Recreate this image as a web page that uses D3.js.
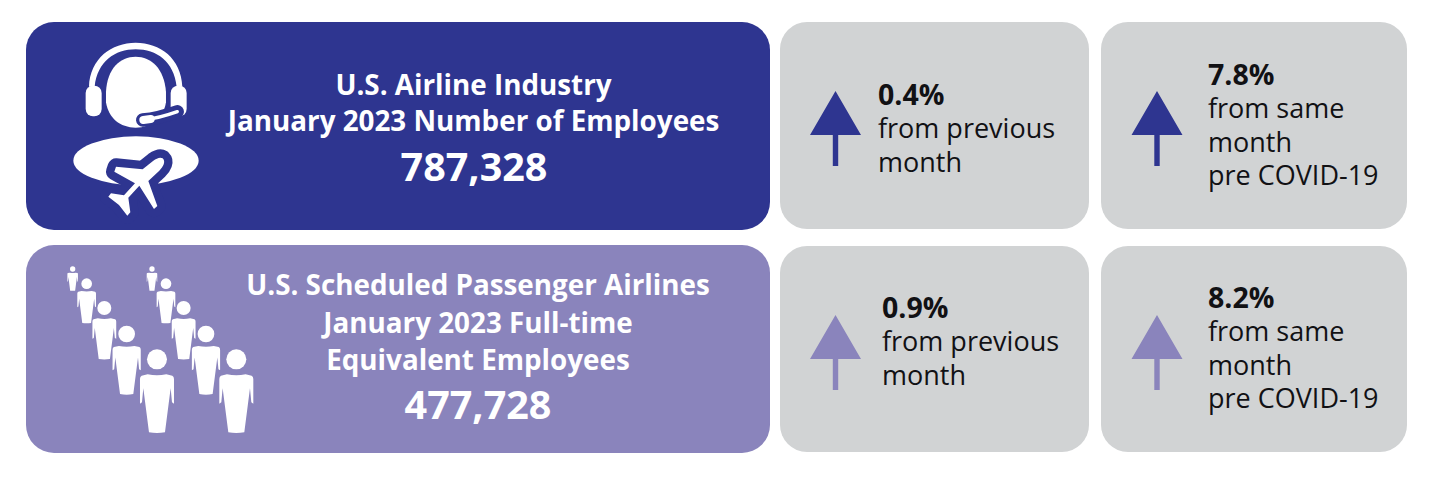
<!DOCTYPE html>
<html>
<head>
<meta charset="utf-8">
<script src="https://cdn.jsdelivr.net/npm/d3@7"></script>
<style>
  html, body { margin: 0; padding: 0; background: #fff; }
  svg { display: block; }
  text { font-family: "Open Sans", sans-serif; }
</style>
</head>
<body>
<div id="chart"></div>
<script>
// values
const panelTitles = [
  ["U.S. Airline Industry", "January 2023 Number of Employees"],
  ["U.S. Scheduled Passenger Airlines", "January 2023 Full-time", "Equivalent Employees"]
];
const panelTotals = ["787,328", "477,728"];
const monthChange = ["0.4%", "0.9%"];
const covidChange = ["7.8%", "8.2%"];
const monthLabel = ["from previous", "month"];
const covidLabel = ["from same", "month", "pre COVID-19"];

const NAVY = "#2e3590", LILAC = "#8a84bc", GREY = "#d1d3d4", INK = "#111114";

const svg = d3.select("#chart").append("svg").attr("width", 1430).attr("height", 478);

function box(x, y, w, h, r, fill) {
  svg.append("rect").attr("x", x).attr("y", y).attr("width", w).attr("height", h)
    .attr("rx", r).attr("fill", fill);
}

function line(x, y, str, size, weight, fill, anchor) {
  svg.append("text").attr("x", x).attr("y", y).attr("font-size", size)
    .attr("font-weight", weight).attr("fill", fill)
    .attr("text-anchor", anchor || "start").text(str);
}

function arrow(cx, top, color) {
  svg.append("path")
    .attr("d", d3.line()([[cx, top], [cx + 25.5, top + 44], [cx + 2.7, top + 44], [cx + 2.7, top + 75],
      [cx - 2.7, top + 75], [cx - 2.7, top + 44], [cx - 25.5, top + 44]]) + "Z")
    .attr("fill", color);
}

// one grey card: arrow, bold change, then the label lines
function card(x, y, w, h, arrowX, arrowTop, color, textX, firstBase, change, label, steps) {
  box(x, y, w, h, 27, GREY);
  arrow(arrowX, arrowTop, color);
  line(textX, firstBase, change, 28.5, 700, INK);
  label.forEach((t, i) => line(textX, firstBase + steps[i], t, 27, 400, INK));
}

box(26, 22, 744, 208, 28, NAVY);
box(26, 245, 744, 208, 28, LILAC);

// panel headings
panelTitles[0].forEach((t, i) => line(473.5, 95 + i * 36, t, 27.8, 700, "#fff", "middle"));
line(474, 181, panelTotals[0], 39.5, 700, "#fff", "middle");
panelTitles[1].forEach((t, i) => line(478, 295 + i * 37.5, t, 27.8, 700, "#fff", "middle"));
line(478, 419, panelTotals[1], 39.5, 700, "#fff", "middle");

// cards
card(780, 22, 309, 207, 835.5, 91, NAVY, 878, 105, monthChange[0], monthLabel, [33, 67]);
card(1101, 22, 306, 207, 1157, 91, NAVY, 1208, 85, covidChange[0], covidLabel, [33, 67, 100]);
card(780, 246, 309, 206, 835.5, 315, LILAC, 882, 318, monthChange[1], monthLabel, [33, 67]);
card(1101, 246, 306, 206, 1157, 315, LILAC, 1208, 308, covidChange[1], covidLabel, [33, 67, 100]);

// headset + plane icon, drawn in the 3x zoom coordinates
const agent = svg.append("g").attr("transform", "translate(20,15) scale(0.3333)");
agent.append("path")
  .attr("d", "M207 215 C210 130 275 83 347 83 C420 83 484 130 487 215 L470 215 C462 140 410 103 347 103 C285 103 232 140 224 215 Z")
  .attr("fill", "#fff");
agent.append("rect").attr("x", 197).attr("y", 212).attr("width", 48).attr("height", 92).attr("rx", 22).attr("fill", "#fff");
agent.append("rect").attr("x", 452).attr("y", 212).attr("width", 48).attr("height", 92).attr("rx", 22).attr("fill", "#fff");
agent.append("path")
  .attr("d", "M258 230 C262 160 300 125 347 125 C394 125 432 160 438 230 L438 262 C430 310 395 338 347 338 C300 338 266 310 258 262 Z")
  .attr("fill", "#fff");
// mic boom with its dark halo
const boom = "M368 315 C400 312 430 305 472 290";
agent.append("path").attr("d", boom).attr("fill", "none").attr("stroke", NAVY)
  .attr("stroke-width", 40).attr("stroke-linecap", "round");
agent.append("path").attr("d", boom).attr("fill", "none").attr("stroke", "#fff")
  .attr("stroke-width", 10).attr("stroke-linecap", "round");
agent.append("path").attr("d", "M370 315 L392 312").attr("fill", "none").attr("stroke", "#fff")
  .attr("stroke-width", 24).attr("stroke-linecap", "round");
agent.append("ellipse").attr("cx", 348).attr("cy", 437).attr("rx", 188).attr("ry", 73).attr("fill", "#fff");
const planePath = "M428 430 C438 440 430 455 418 467 L385 498 L412 573 L402 582 L358 512 L325 548 L331 592 L322 602 L297 570 L265 545 L273 535 L312 541 L345 505 L283 470 L288 455 L368 463 L400 437 C410 430 420 425 428 430 Z";
agent.append("path").attr("d", planePath).attr("fill", NAVY).attr("stroke", NAVY)
  .attr("stroke-width", 50).attr("stroke-linejoin", "round");
agent.append("path").attr("d", planePath).attr("fill", "#fff");

// two queues of people, shrinking toward the back
const crowd = svg.append("g").attr("transform", "translate(20,240) scale(0.3333)");
const figure = "M-28 0 Q0 5 28 0 L46 4 Q51 6 51 14 L51 88 L45 84 L41 42 L24 174 Q0 178 -24 174 L-41 42 L-45 84 L-51 88 L-51 14 Q-51 6 -46 4 Z";
[0, 238].forEach(dx => {
  [[158, 87, 8, 98, 0.31], [200, 131, 16, 153, 0.55], [253, 204, 21, 235, 0.7],
   [320, 282, 25, 318, 0.83], [411, 358, 30, 403, 1]].forEach(p => {
    crowd.append("circle").attr("cx", p[0] + dx).attr("cy", p[1]).attr("r", p[2]).attr("fill", "#fff");
    crowd.append("path").attr("d", figure).attr("fill", "#fff")
      .attr("transform", `translate(${p[0] + dx},${p[3]}) scale(${p[4]})`);
  });
});
</script>
</body>
</html>
